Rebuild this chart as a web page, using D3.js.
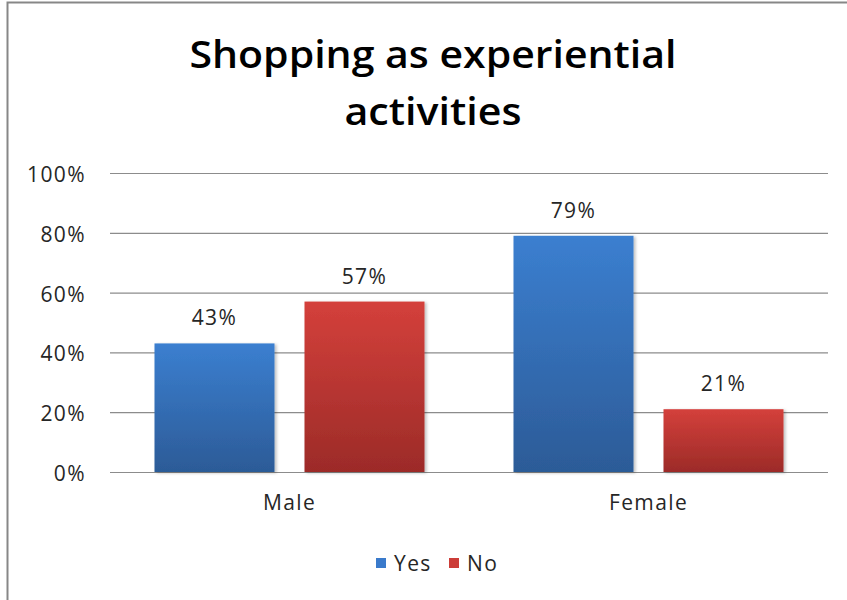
<!DOCTYPE html>
<html>
<head>
<meta charset="utf-8">
<script src="https://cdn.jsdelivr.net/npm/d3@7/dist/d3.min.js"></script>
<style>
  html, body { margin: 0; padding: 0; background: #fff; }
  svg { display: block; }
  text { font-family: "Open Sans", "Liberation Sans", sans-serif; fill: #262626; }
  .lab { font-size: 21px; letter-spacing: 1.4px; }
</style>
</head>
<body>
<div id="chart"></div>
<script>
// Survey answers by gender
const categories = ["Male", "Female"];
const seriesNames = ["Yes", "No"];
const yesValues = [0.43, 0.79];
const noValues = [0.57, 0.21];
const yTicks = [0, 0.2, 0.4, 0.6, 0.8, 1.0];
const titleLines = ["Shopping as experiential", "activities"];

const W = 847, H = 600;
const margin = { top: 173, right: 19, bottom: 128, left: 110 };

const svg = d3.select("#chart").append("svg")
  .attr("width", W).attr("height", H);

const defs = svg.append("defs");
const grads = [
  { id: "gYes", top: "#3b7fd0", bottom: "#2c5b97" },
  { id: "gNo", top: "#d4403b", bottom: "#9c2b28" }
];
grads.forEach(g => {
  const lg = defs.append("linearGradient").attr("id", g.id)
    .attr("x1", 0).attr("y1", 0).attr("x2", 0).attr("y2", 1);
  lg.append("stop").attr("offset", "0%").attr("stop-color", g.top);
  lg.append("stop").attr("offset", "100%").attr("stop-color", g.bottom);
});
const shadow = defs.append("filter").attr("id", "shadow")
  .attr("x", "-10%").attr("y", "-10%").attr("width", "130%").attr("height", "120%");
shadow.append("feDropShadow").attr("dx", 2).attr("dy", 1).attr("stdDeviation", 1.5)
  .attr("flood-color", "#000").attr("flood-opacity", 0.25);

// Chart frame
svg.append("rect")
  .attr("x", 7.5).attr("y", 2.5).attr("width", W + 50).attr("height", H + 50)
  .attr("fill", "none").attr("stroke", "#878787").attr("stroke-width", 2);

// Title
const title = svg.append("text").attr("text-anchor", "middle")
  .style("font-weight", "600").style("font-size", "38px").style("fill", "#000");
title.append("tspan").attr("x", 433).attr("y", 68)
  .attr("textLength", 487).attr("lengthAdjust", "spacingAndGlyphs").text(titleLines[0]);
title.append("tspan").attr("x", 433).attr("y", 125)
  .attr("textLength", 177).attr("lengthAdjust", "spacingAndGlyphs").text(titleLines[1]);

const plotW = W - margin.left - margin.right;
const plotH = H - margin.top - margin.bottom;
const g = svg.append("g").attr("transform", `translate(${margin.left},${margin.top})`);

const y = d3.scaleLinear().domain([0, 1]).range([plotH, 0]);
const x0 = d3.scaleBand().domain(categories).range([0, plotW]).padding(0);
const outer = (x0.bandwidth() - 270) / 2;
const x1 = d3.scaleBand().domain(seriesNames)
  .range([outer, x0.bandwidth() - outer]).paddingInner(0.2).paddingOuter(0);

// Gridlines
const yAxis = d3.axisLeft(y).tickValues(yTicks).tickSize(-plotW)
  .tickFormat(d3.format(".0%")).tickPadding(24);
const ya = g.append("g").call(yAxis);
ya.select(".domain").remove();
ya.selectAll(".tick line").attr("stroke", "#8c8c8c").attr("stroke-width", 1.2);
ya.selectAll(".tick text").attr("class", "lab").style("font-size", null)
  .attr("dy", "0.4em");

// Category labels
const xAxis = d3.axisBottom(x0).tickSize(0).tickPadding(23);
const xa = g.append("g").attr("transform", `translate(0,${plotH})`).call(xAxis);
xa.select(".domain").remove();
xa.selectAll(".tick text").attr("class", "lab");

// Bars
const rows = categories.map((c, i) => ({
  category: c,
  values: [
    { key: "Yes", value: yesValues[i], fill: "url(#gYes)" },
    { key: "No", value: noValues[i], fill: "url(#gNo)" }
  ]
}));

const groups = g.selectAll(".grp").data(rows).join("g")
  .attr("class", "grp")
  .attr("transform", d => `translate(${x0(d.category)},0)`);

groups.selectAll("rect").data(d => d.values).join("rect")
  .attr("x", d => x1(d.key))
  .attr("y", d => y(d.value))
  .attr("width", x1.bandwidth())
  .attr("height", d => plotH - y(d.value))
  .attr("fill", d => d.fill)
  .attr("filter", "url(#shadow)");

groups.selectAll(".val").data(d => d.values).join("text")
  .attr("class", "val lab")
  .attr("x", d => x1(d.key) + x1.bandwidth() / 2)
  .attr("y", d => y(d.value) - 18)
  .attr("text-anchor", "middle")
  .text(d => d3.format(".0%")(d.value));

// Legend
const legendItems = [
  { key: "Yes", color: "#3a7acb", x: 376 },
  { key: "No", color: "#cc3d38", x: 449 }
];
const lg = svg.append("g");
legendItems.forEach(it => {
  lg.append("rect").attr("x", it.x).attr("y", 558).attr("width", 10).attr("height", 10)
    .attr("fill", it.color);
  lg.append("text").attr("class", "lab").attr("x", it.x + 18).attr("y", 571).text(it.key);
});
</script>
</body>
</html>
